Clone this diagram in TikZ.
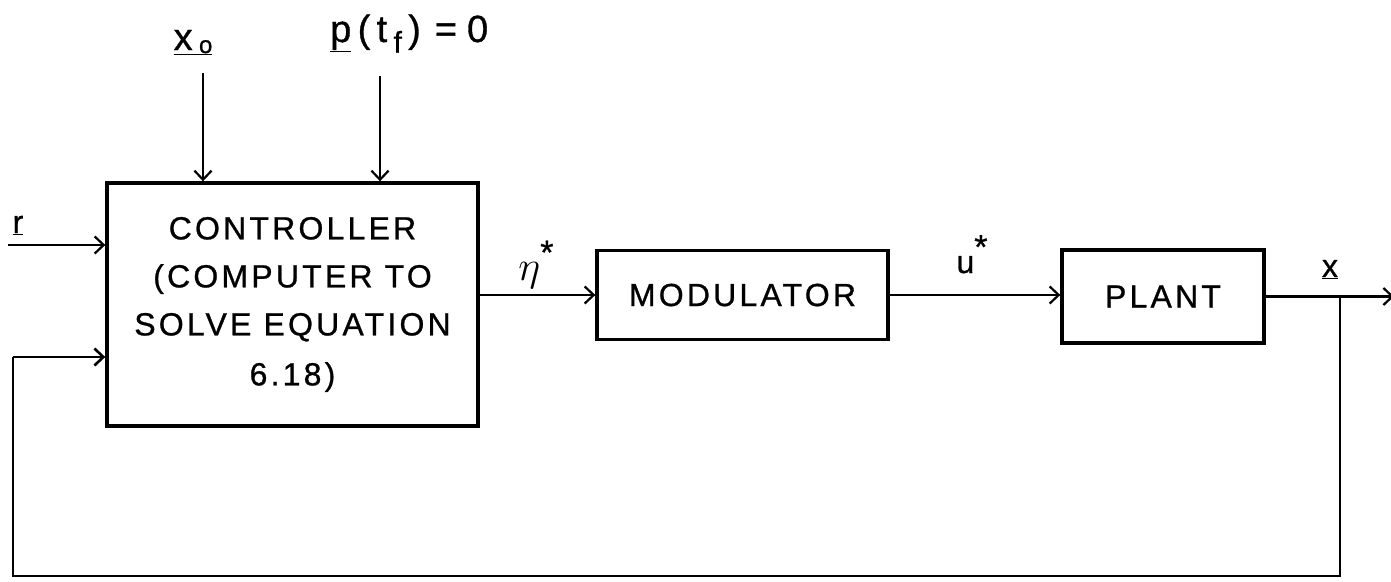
\RequirePackage{fix-cm}
\documentclass[tikz,border=0pt]{standalone}
\usepackage{fontspec}
\setmainfont{Liberation Sans}
\newfontfamily\lett{Liberation Sans}[LetterSpace=10,FakeBold=0.8]
\usetikzlibrary{arrows.meta}
\newcommand{\ulx}[1]{\underline{#1}}
\begin{document}
\begin{tikzpicture}[x=1pt,y=-1pt,
  blk/.style={draw, line width=3.4pt, font=\lett\fontsize{32}{48}\selectfont, align=center, inner sep=0pt},
  conn/.style={line width=2.2pt},
  arr/.style={conn, -{Straight Barb[length=9pt,width=17pt]}},
  lbl/.style={font=\lett\fontsize{38}{44}\selectfont, inner sep=0pt},
  slbl/.style={font=\lett\fontsize{32}{40}\selectfont, inner sep=0pt}]
\useasboundingbox (0,0) rectangle (1391,581);
% blocks
\node[blk, minimum width=371pt, minimum height=243pt] (ctrl) at (292.5,304.5)
  {CONTROLLER\\(COMPUTER TO\\SOLVE EQUATION\\[2pt]6.18)};
\node[blk, minimum width=291pt, minimum height=89pt] (mod) at (742.5,295) {MODULATOR};
\node[blk, minimum width=202pt, minimum height=93pt] (plant) at (1163,296.5) {PLANT};
% coordinates
\coordinate (x0s) at (203,73);
\coordinate (ps) at (380,76);
\coordinate (rs) at (8,245);
\coordinate (br) at (1340,296.5);
\coordinate (fb1) at (1340,576);
\coordinate (fb2) at (13,576);
\coordinate (fb3) at (13,357);
\coordinate (out) at (1394,296.5);
% connectors
\draw[arr] (x0s) -- (x0s |- ctrl.north);
\draw[arr] (ps) -- (ps |- ctrl.north);
\draw[arr] (rs) -- (rs -| ctrl.west);
\draw[arr] (ctrl.east |- mod.west) -- (mod.west);
\draw[arr] (mod.east) -- (mod.east -| plant.west);
\draw[arr] (plant.east) -- (out);
\draw[conn, line width=2.6pt] (br) -- (fb1) -- (fb2) -- (fb3);
\draw[arr, line width=2.6pt] (fb3) -- (fb3 -| ctrl.west);
% labels
\node[lbl, anchor=base] (x0l) at (193,50) {\ulx{x\,\raisebox{-0.08em}{\fontsize{24}{24}\selectfont o}}};
\node[lbl, anchor=base west] (pl) at (330,42) {\ulx{p}\,(\,t\,\raisebox{-0.28em}{\fontsize{30}{30}\selectfont f}\,)\kern14pt=\kern10pt0};
\node[slbl, anchor=base] (rl) at (18,233) {\ulx{r}};
\node[lbl, anchor=base] (etal) at (536,280) {\fontsize{42}{44}\selectfont$\eta$\raisebox{0.38em}{\lett\fontsize{34}{34}\selectfont *}};
\node[slbl, anchor=base] (ul) at (972,273) {u\raisebox{0.45em}{\fontsize{34}{34}\selectfont *}};
\node[slbl, anchor=base] (xl) at (1330,277) {\ulx{x}};
\end{tikzpicture}
\end{document}
